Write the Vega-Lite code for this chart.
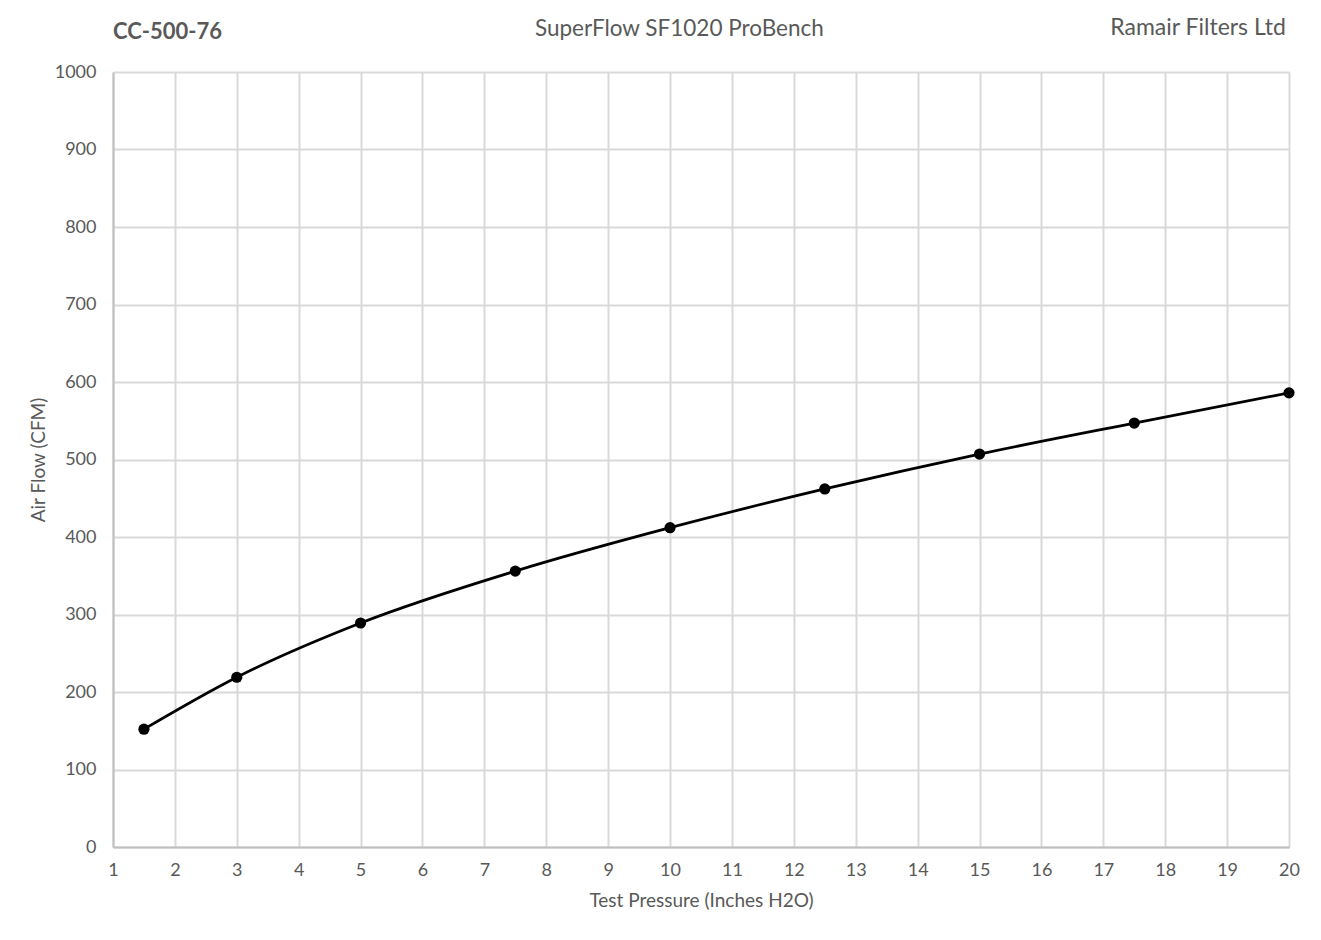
{
  "$schema": "https://vega.github.io/schema/vega-lite/v6.json",
  "description": "CC-500-76 air flow vs test pressure",
  "autosize": {"type": "none"},
  "padding": {"left": 113, "top": 72, "right": 32, "bottom": 93},
  "width": 1176,
  "height": 775,
  "background": "white",
  "config": {
    "font": "Lato",
    "view": {"stroke": null},
    "axis": {
      "labelFont": "Lato",
      "labelFontSize": 18,
      "labelColor": "#595959",
      "labelFlush": false,
      "titleFont": "Lato",
      "titleFontSize": 19,
      "titleFontWeight": "normal",
      "titleColor": "#595959",
      "gridColor": "#d9d9d9",
      "gridWidth": 2,
      "domainColor": "#bfbfbf",
      "domainWidth": 2,
      "ticks": false
    },
    "text": {"font": "Lato", "color": "#595959", "baseline": "middle", "clip": false}
  },
  "data": {
    "values": [
      {"pressure": 1.5, "cfm": 152},
      {"pressure": 3, "cfm": 219},
      {"pressure": 5, "cfm": 289},
      {"pressure": 7.5, "cfm": 356},
      {"pressure": 10, "cfm": 412},
      {"pressure": 12.5, "cfm": 462},
      {"pressure": 15, "cfm": 507},
      {"pressure": 17.5, "cfm": 547},
      {"pressure": 20, "cfm": 586}
    ]
  },
  "layer": [
    {
      "mark": {"type": "line", "color": "black", "strokeWidth": 2.75, "interpolate": "monotone"},
      "encoding": {
        "x": {
          "field": "pressure",
          "type": "quantitative",
          "title": "Test Pressure (Inches H2O)",
          "scale": {"domain": [1, 20], "nice": false, "zero": false},
          "axis": {
            "values": [1, 2, 3, 4, 5, 6, 7, 8, 9, 10, 11, 12, 13, 14, 15, 16, 17, 18, 19, 20],
            "format": "d",
            "labelPadding": 14,
            "titlePadding": 12
          }
        },
        "y": {
          "field": "cfm",
          "type": "quantitative",
          "title": "Air Flow (CFM)",
          "scale": {"domain": [0, 1000], "nice": false, "zero": true},
          "axis": {
            "values": [0, 100, 200, 300, 400, 500, 600, 700, 800, 900, 1000],
            "format": "d",
            "labelPadding": 17,
            "titlePadding": 6
          }
        }
      }
    },
    {
      "mark": {"type": "point", "filled": true, "color": "black", "opacity": 1, "size": 125},
      "encoding": {
        "x": {"field": "pressure", "type": "quantitative"},
        "y": {"field": "cfm", "type": "quantitative"}
      }
    },
    {
      "data": {"values": [{"label": "CC-500-76"}]},
      "mark": {"type": "text", "align": "left", "fontSize": 22, "fontWeight": "bold"},
      "encoding": {
        "x": {"datum": 1, "type": "quantitative"},
        "y": {"datum": 1052, "type": "quantitative"},
        "text": {"field": "label", "type": "nominal"}
      }
    },
    {
      "data": {"values": [{"label": "SuperFlow SF1020 ProBench"}]},
      "mark": {"type": "text", "align": "center", "fontSize": 22.5},
      "encoding": {
        "x": {"datum": 10.15, "type": "quantitative"},
        "y": {"datum": 1056, "type": "quantitative"},
        "text": {"field": "label", "type": "nominal"}
      }
    },
    {
      "data": {"values": [{"label": "Ramair Filters Ltd"}]},
      "mark": {"type": "text", "align": "right", "fontSize": 23},
      "encoding": {
        "x": {"datum": 19.95, "type": "quantitative"},
        "y": {"datum": 1057, "type": "quantitative"},
        "text": {"field": "label", "type": "nominal"}
      }
    }
  ]
}
